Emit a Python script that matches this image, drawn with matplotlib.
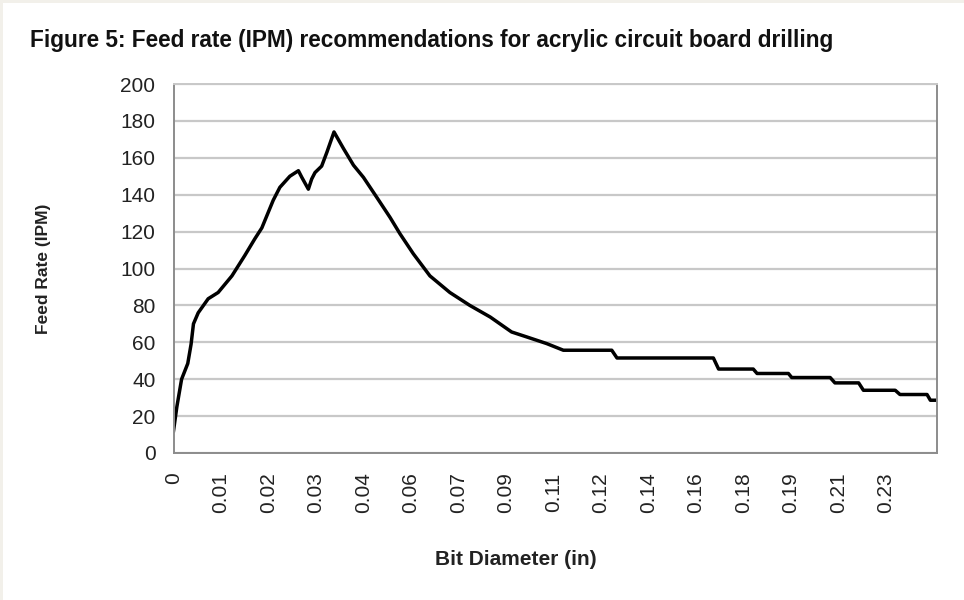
import matplotlib.pyplot as plt
from matplotlib.patches import Rectangle

# x tick labels (category axis, evenly spaced)
tick_labels = ["0", "0.01", "0.02", "0.03", "0.04", "0.06", "0.07", "0.09",
               "0.11", "0.12", "0.14", "0.16", "0.18", "0.19", "0.21", "0.23"]

# curve, x in category-label units, y = feed rate (IPM)
pos = [0.0, 0.07, 0.17, 0.30, 0.37, 0.42, 0.52, 0.73, 0.94, 1.23, 1.50, 1.71,
       1.86, 2.10, 2.24, 2.45, 2.63, 2.70, 2.84, 2.91, 2.98, 3.12, 3.23, 3.38,
       3.58, 3.79, 4.00, 4.28, 4.56, 4.77, 5.05, 5.40, 5.82, 6.24, 6.67, 7.12,
       7.44, 7.86, 8.21, 9.23, 9.34, 11.37, 11.48, 12.21, 12.29, 12.95, 13.02,
       13.83, 13.93, 14.43, 14.53, 15.20, 15.30, 15.87, 15.94, 16.08]
feed = [12, 25, 40, 48.5, 59, 70, 76, 83.6, 87, 96, 107, 116,
        122, 137, 144, 150, 153, 149.5, 143, 148.5, 152, 155.5, 163, 174,
        165, 156, 149.4, 138.6, 127.7, 118.8, 108, 96, 87, 80, 73.7, 65.6,
        62.9, 59.3, 55.7, 55.7, 51.5, 51.5, 45.5, 45.5, 43.1, 43.1, 40.9,
        40.9, 38, 38, 34, 34, 31.7, 31.7, 28.6, 28.6]

yticks = list(range(0, 201, 20))

fig = plt.figure(figsize=(9.64, 6.0), dpi=100)
fig.patch.set_facecolor("#f2f0ea")
fig.patches.append(Rectangle((0.003, 0), 0.997, 0.995, transform=fig.transFigure,
                             facecolor="white", edgecolor="none", zorder=-5))

ax = fig.add_axes([0.18, 0.245, 0.792, 0.615])
ax.set_zorder(2)
ax.plot(pos, feed, color="black", lw=2.5, solid_joinstyle="round")

ax.set_xlim(0, 16.08)
ax.set_ylim(0, 200)
ax.set_yticks(yticks)
ax.set_xticks(range(len(tick_labels)))
ax.set_xticklabels(tick_labels, rotation=90, fontsize=15, color="#222222",
                   family="Liberation Sans")
ax.set_yticklabels([str(v) for v in yticks], fontsize=15, color="#222222",
                   family="Liberation Sans")
ax.tick_params(axis="x", length=0, pad=14)
ax.tick_params(axis="y", length=0, pad=13)
ax.yaxis.grid(True, color="#c8c8c8", lw=1.6)
ax.set_axisbelow(True)
for side in ["left", "right", "bottom", "top"]:
    ax.spines[side].set_color("#8c8c8c")
    ax.spines[side].set_linewidth(1.4)
ax.spines["top"].set_color("#c8c8c8")

ax.set_ylabel("Feed Rate (IPM)", fontsize=12.5, fontweight="bold",
              family="Liberation Sans", color="#222222")
ax.yaxis.set_label_coords(-0.16, 0.5)

fig.text(0.535, 0.067, "Bit Diameter (in)", fontsize=15, fontweight="bold",
         family="Liberation Sans", color="#222222", ha="center", va="center")

fig.text(0.031, 0.932, "Figure 5: Feed rate (IPM) recommendations for acrylic circuit board drilling",
         fontsize=16.3, fontweight="bold", family="Liberation Sans",
         color="#111111", va="center", zorder=3)

fig.savefig("out.png", dpi=100, facecolor=fig.get_facecolor())
